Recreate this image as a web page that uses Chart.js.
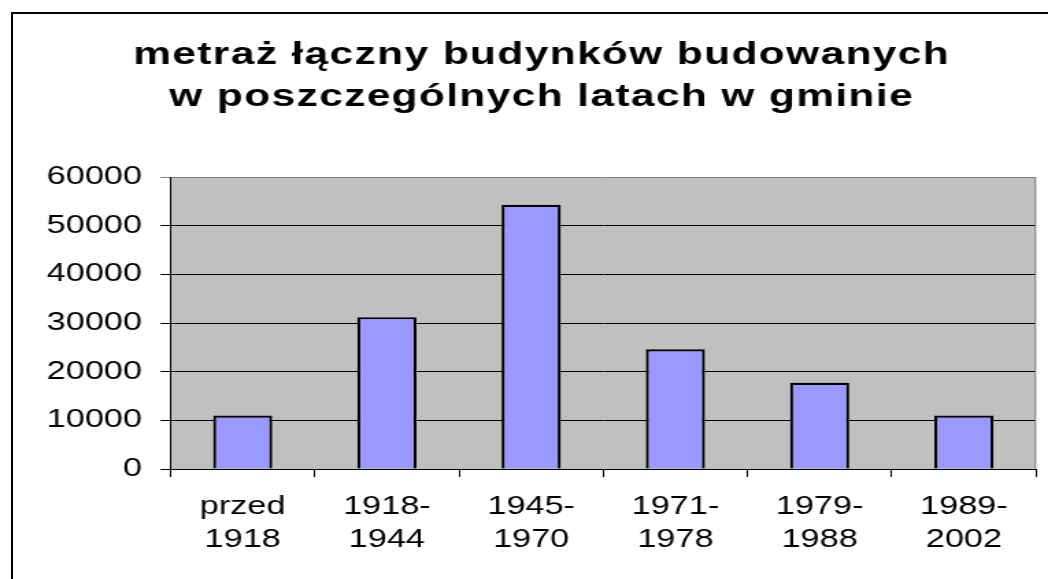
<!DOCTYPE html>
<html>
<head>
<meta charset="utf-8">
<script src="https://cdn.jsdelivr.net/npm/chart.js@4.4.1/dist/chart.umd.min.js"></script>
<style>
    html, body { margin: 0; padding: 0; background: #fff; overflow: hidden; }
    #frame { position: absolute; left: 11px; top: 12px; width: 2000px; height: 2000px;
             border-left: 2px solid #000; border-top: 2px solid #000; }
    /* the original chart is stretched sideways, so draw narrow and scale in x */
    #wrap { position: absolute; left: 0; top: 0; width: 765px; height: 579px;
            transform: scaleX(1.37); transform-origin: 0 0; }
</style>
</head>
<body>
<div id="frame"></div>
<div id="wrap"><canvas id="barChart"></canvas></div>
<script>
const titleLines = ['metraż łączny budynków budowanych', 'w poszczególnych latach w gminie'];
const periods = [['przed', '1918'], ['1918-', '1944'], ['1945-', '1970'], ['1971-', '1978'], ['1979-', '1988'], ['1989-', '2002']];
const areaValues = [11000, 31200, 54300, 24600, 17700, 11000];
const yMin = 0;
const yMax = 60000;
const yStep = 10000;

const plotBackground = {
    id: 'plotBackground',
    beforeDraw(chart) {
        const { ctx, chartArea: { left, top, right, bottom } } = chart;
        ctx.save();
        ctx.fillStyle = '#c0c0c0';
        ctx.fillRect(left, top, right - left, bottom - top);
        ctx.restore();

        // a bit of letter spacing on the title, as in the original
        const tb = chart.titleBlock;
        if (tb && !tb._spaced) {
            const origDraw = tb.draw.bind(tb);
            tb.draw = function () {
                chart.ctx.save();
                chart.ctx.letterSpacing = '1px';
                origDraw();
                chart.ctx.restore();
            };
            tb._spaced = true;
        }
    },
    afterDraw(chart) {
        const { ctx, chartArea: { top, right, bottom } } = chart;
        ctx.save();
        ctx.strokeStyle = '#808080';
        ctx.lineWidth = 1;
        ctx.beginPath();
        ctx.moveTo(right - 0.5, top);
        ctx.lineTo(right - 0.5, bottom);
        ctx.stroke();
        ctx.restore();
    }
};

const ctx = document.getElementById('barChart').getContext('2d');
new Chart(ctx, {
    type: 'bar',
    data: {
        labels: periods,
        datasets: [{
            data: areaValues,
            backgroundColor: '#9999ff',
            borderColor: '#000000',
            borderWidth: 2.2,
            categoryPercentage: 1,
            barPercentage: 0.41
        }]
    },
    options: {
        responsive: true,
        maintainAspectRatio: false,
        animation: false,
        layout: {
            padding: { left: 34.5, right: 8.8, top: 0, bottom: 9.5 }
        },
        plugins: {
            legend: { display: false },
            tooltip: { enabled: false },
            title: {
                display: true,
                text: titleLines,
                color: '#000',
                font: { family: 'Liberation Sans', size: 31, weight: 'bold', lineHeight: 1.355 },
                padding: { top: 34.3, bottom: 58.7 }
            }
        },
        scales: {
            x: {
                grid: {
                    display: true,
                    drawOnChartArea: false,
                    drawTicks: true,
                    tickLength: 8,
                    color: '#000',
                    offset: true
                },
                border: { display: true, color: '#000', width: 1 },
                ticks: {
                    color: '#000',
                    font: { family: 'Liberation Sans', size: 25, lineHeight: 1.33 },
                    padding: 13,
                    maxRotation: 0,
                    autoSkip: false
                }
            },
            y: {
                min: yMin,
                max: yMax,
                afterFit(scale) { scale.width = 90; },
                grid: {
                    color: c => (c.tick && c.tick.value === yMax) ? '#808080' : '#000',
                    tickLength: 7.3,
                    lineWidth: 1
                },
                border: { display: true, color: '#000', width: 1 },
                ticks: {
                    stepSize: yStep,
                    color: '#000',
                    padding: 13.6,
                    font: { family: 'Liberation Sans', size: 25 },
                    callback: v => String(v)
                }
            }
        }
    },
    plugins: [plotBackground]
});
</script>
</body>
</html>
